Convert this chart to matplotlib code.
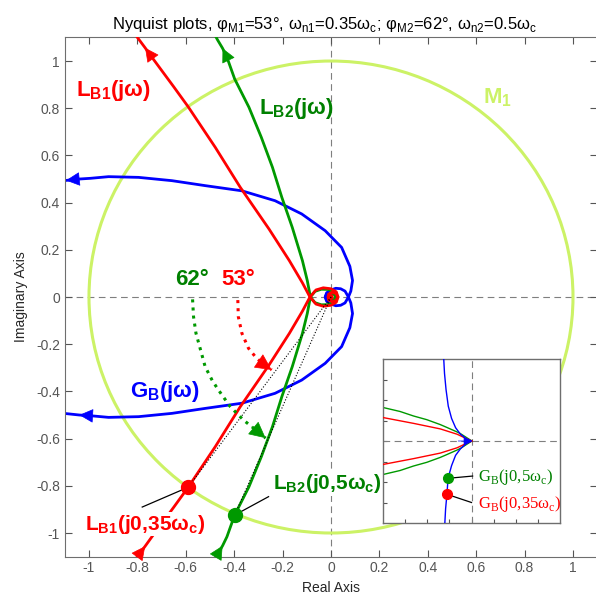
import numpy as np
import matplotlib
matplotlib.use('Agg')
import matplotlib.pyplot as plt
from matplotlib.patches import Circle
from matplotlib.ticker import FuncFormatter

plt.rcParams['font.family'] = ['Liberation Sans', 'DejaVu Sans']
plt.rcParams['axes.unicode_minus'] = False

RED = '#ff0000'
GREEN = '#009900'
GREEN_TXT = '#008000'
BLUE = '#0000ff'
MCOL = '#ccf266'
GRAY = '#7f7f7f'

# positive-frequency branches, low frequency first; the negative-frequency
# halves are their complex conjugates
lb1_re = [-0.83, -0.80, -0.768, -0.74, -0.65, -0.59, -0.478, -0.375, -0.256, -0.172,
          -0.118, -0.087, -0.062, -0.032, 0.0, 0.022, 0.029, 0.02, 0.004, -0.01,
          -0.012, -0.004, 0.005, 0.0]
lb1_im = [-1.145, -1.10, -1.056, -1.016, -0.891, -0.806, -0.634, -0.465, -0.288, -0.154,
          -0.06, 0.0, 0.03, 0.039, 0.035, 0.022, 0.0, -0.015, -0.02, -0.012,
          0.0, 0.01, 0.004, 0.0]

lb2_re = [-0.49, -0.469, -0.448, -0.43, -0.398, -0.339, -0.288, -0.242, -0.203, -0.16,
          -0.118, -0.098, -0.085, -0.066, -0.04, -0.01, 0.012, 0.02, 0.012, 0.0,
          -0.008, 0.0]
lb2_im = [-1.13, -1.09, -1.054, -1.016, -0.924, -0.804, -0.677, -0.55, -0.422, -0.295,
          -0.154, -0.07, 0.0, 0.024, 0.033, 0.032, 0.02, 0.0, -0.012, -0.014,
          -0.006, 0.0]

gb_re = [-1.12, -1.095, -1.04, -0.994, -0.919, -0.795, -0.657, -0.52, -0.368, -0.231,
         -0.121, -0.024, 0.044, 0.078, 0.089, 0.082, 0.072, 0.058, 0.04, 0.02,
         0.0, -0.018, -0.024, -0.018, -0.008, 0.0, 0.0]
gb_im = [-0.492, -0.494, -0.5, -0.503, -0.51, -0.507, -0.493, -0.472, -0.45, -0.408,
         -0.352, -0.281, -0.21, -0.13, -0.07, -0.025, 0.0, 0.025, 0.035, 0.037,
         0.03, 0.018, 0.0, -0.012, -0.012, -0.005, 0.0]

# crossover points on the unit circle
dot1 = (-0.59, -0.806)   # L_B1(j0.35 wc)
dot2 = (-0.398, -0.924)  # L_B2(j0.5 wc)

# phase margin arcs
arc1_re = [-0.385, -0.383, -0.368, -0.341, -0.307, -0.275, -0.245]
arc1_im = [-0.013, -0.083, -0.154, -0.217, -0.26, -0.288, -0.309]
arc2_re = [-0.572, -0.568, -0.558, -0.52, -0.49, -0.465, -0.416, -0.362, -0.327, -0.27]
arc2_im = [-0.01, -0.083, -0.153, -0.295, -0.355, -0.394, -0.465, -0.521, -0.55, -0.598]

m1_center = (0.0, 0.0)
m1_radius = 1.0

# close-up around the origin (inset units)
in_g_re = [-4.1, -3.23, -2.62, -2.02, -1.41, -1.11, -0.65, -0.5, -0.17, 0.02]
in_g_im = [-1.66, -1.44, -1.22, -1.04, -0.80, -0.66, -0.44, -0.36, -0.13, 0.0]
in_r_re = [-4.1, -3.98, -2.62, -1.41, -0.65, -0.2, 0.02]
in_r_im = [-1.16, -1.14, -0.86, -0.59, -0.33, -0.1, 0.0]
in_b_re = [-1.26, -1.22, -1.15, -1.05, -0.9, -0.72, -0.5, -0.25, 0.0, -0.25, -0.5,
           -0.72, -0.9, -1.06, -1.11, -1.17, -1.21]
in_b_im = [4.1, 3.3, 2.5, 1.7, 1.1, 0.65, 0.33, 0.12, 0.0, -0.14, -0.38,
           -0.7, -1.2, -1.82, -2.6, -3.3, -4.1]
in_dot2 = (-1.06, -1.82)   # G_B(j0.5 wc)
in_dot1 = (-1.11, -2.6)    # G_B(j0.35 wc)


def arrow(a, tail, tip, color, size=15):
    a.annotate('', xy=tip, xytext=tail,
               arrowprops=dict(arrowstyle='-|>,head_length=0.6,head_width=0.3',
                               color=color, lw=0.5, shrinkA=0, shrinkB=0,
                               mutation_scale=size), zorder=5)


def branch(a, re, im, color, lw=2.0, z=2):
    re = np.asarray(re)
    im = np.asarray(im)
    a.plot(re, im, color=color, lw=lw, zorder=z, solid_joinstyle='round')
    a.plot(re, -im, color=color, lw=lw, zorder=z, solid_joinstyle='round')
    return re, im


fig = plt.figure(figsize=(5.96, 5.96), dpi=100)
ax = fig.add_axes([0.1087, 0.0661, 0.8933, 0.8711])
ax.set_xlim(-1.1, 1.1)
ax.set_ylim(-1.1, 1.1)

ax.axhline(0, color=GRAY, ls=(0, (6, 4)), lw=0.8, zorder=1)
ax.axvline(0, color=GRAY, ls=(0, (6, 4)), lw=0.8, zorder=1)
ax.add_patch(Circle(m1_center, m1_radius, fill=False, ec=MCOL, lw=2.2, zorder=1.5))

gr, gi = branch(ax, gb_re, gb_im, BLUE, z=2)
l2r, l2i = branch(ax, lb2_re, lb2_im, GREEN, z=3)
l1r, l1i = branch(ax, lb1_re, lb1_im, RED, z=4)

# direction arrows
arrow(ax, (gr[3], gi[3]), (gr[2], gi[2]), BLUE)
arrow(ax, (gr[2], -gi[2]), (gr[1], -gi[1]), BLUE)
arrow(ax, (l1r[1], l1i[1]), (l1r[2], l1i[2]), RED)
arrow(ax, (l1r[3], -l1i[3]), (l1r[2], -l1i[2]), RED)
arrow(ax, (l2r[1], l2i[1]), (l2r[2], l2i[2]), GREEN)
arrow(ax, (l2r[3], -l2i[3]), (l2r[2], -l2i[2]), GREEN)

# phase margin construction
ax.plot([0, dot1[0]], [0, dot1[1]], ls=':', color='k', lw=0.8, zorder=4.5)
ax.plot([0, dot2[0]], [0, dot2[1]], ls=':', color='k', lw=0.8, zorder=4.5)
ax.plot(arc1_re, arc1_im, ls=':', color=RED, lw=2.2, zorder=4.5)
ax.plot(arc2_re, arc2_im, ls=':', color=GREEN, lw=2.2, zorder=4.5)
arrow(ax, (arc1_re[-2], arc1_im[-2]), (arc1_re[-1], arc1_im[-1]), RED, size=18)
arrow(ax, (arc2_re[-2], arc2_im[-2]), (arc2_re[-1], arc2_im[-1]), GREEN, size=18)

ax.plot([dot1[0], -0.78], [dot1[1], -0.89], color='k', lw=0.9, zorder=6)
ax.plot([dot2[0], -0.258], [dot2[1], -0.846], color='k', lw=0.9, zorder=6)
ax.plot(*dot1, 'o', color=RED, ms=10, zorder=7)
ax.plot(*dot2, 'o', color=GREEN, ms=10, zorder=7)

bold = dict(fontsize=16, fontweight='bold', va='center', zorder=8)
ax.text(-1.055, 0.873, 'L$_{\\mathregular{B1}}$(jω)', color=RED, ha='left', **bold)
ax.text(-0.297, 0.799, 'L$_{\\mathregular{B2}}$(jω)', color=GREEN_TXT, ha='left', **bold)
ax.text(0.627, 0.843, 'M$_{\\mathregular{1}}$', color=MCOL, ha='left', **bold)
ax.text(-0.83, -0.40, 'G$_{\\mathregular{B}}$(jω)', color=BLUE, ha='left', **bold)
ax.text(-0.575, 0.076, '62°', color=GREEN_TXT, ha='center', **bold)
ax.text(-0.383, 0.076, '53°', color=RED, ha='center', **bold)
bold['fontsize'] = 15
ax.text(-1.015, -0.962, 'L$_{\\mathregular{B1}}$(j0,35ω$_{\\mathregular{c}}$)', color=RED,
        ha='left', bbox=dict(fc='white', ec='none', pad=0.5), **bold)
ax.text(-0.239, -0.79, 'L$_{\\mathregular{B2}}$(j0,5ω$_{\\mathregular{c}}$)', color=GREEN_TXT,
        ha='left', bbox=dict(fc='white', ec='none', pad=0.5), **bold)

ticks = np.round(np.arange(-1, 1.01, 0.2), 1)
fmt = FuncFormatter(lambda v, p: f'{round(v, 1) + 0.0:g}')
ax.set_xticks(ticks)
ax.set_yticks(ticks)
ax.xaxis.set_major_formatter(fmt)
ax.yaxis.set_major_formatter(fmt)
ax.tick_params(direction='in', top=True, right=True, length=5, width=0.8,
               colors='#555555', labelsize=10)
for s in ax.spines.values():
    s.set_color('#6e6e6e')
    s.set_linewidth(0.8)
ax.set_xlabel('Real Axis', fontsize=10, color='#262626', labelpad=4)
ax.set_ylabel('Imaginary Axis', fontsize=10, color='#262626', labelpad=6)

fig.text(325 / 596, 1 - 24.5 / 596,
         'Nyquist plots, φ$_{\\mathregular{M1}}$=53°, ω$_{\\mathregular{n1}}$=0.35ω$_{\\mathregular{c}}$; '
         'φ$_{\\mathregular{M2}}$=62°, ω$_{\\mathregular{n2}}$=0.5ω$_{\\mathregular{c}}$',
         ha='center', va='center', fontsize=12)

# inset: close-up of the high frequency end
axin = fig.add_axes([383 / 596, 73 / 596, 177 / 596, 164 / 596])
axin.set_xlim(-4, 4)
axin.set_ylim(-4, 4)
axin.axhline(0, color=GRAY, ls=(0, (6, 4)), lw=0.8)
axin.axvline(0, color=GRAY, ls=(0, (6, 4)), lw=0.8)
branch(axin, in_g_re, in_g_im, GREEN, lw=1.0, z=2)
branch(axin, in_r_re, in_r_im, RED, lw=1.0, z=3)
axin.plot(in_b_re, in_b_im, color=BLUE, lw=1.0, zorder=4)
arrow(axin, (-0.6, 0.0), (0.0, 0.0), BLUE, size=8)
axin.plot([in_dot2[0], 0.05], [in_dot2[1], -1.71], color='k', lw=0.9, zorder=5)
axin.plot([in_dot1[0], 0.0], [in_dot1[1], -3.0], color='k', lw=0.9, zorder=5)
axin.plot(*in_dot2, 'o', color=GREEN, ms=7, zorder=6)
axin.plot(*in_dot1, 'o', color=RED, ms=7, zorder=6)
serif = dict(fontsize=12, family=['Liberation Serif', 'DejaVu Serif'], va='center', ha='left')
axin.text(0.3, -1.74, 'G$_{\\mathregular{B}}$(j0,5ω$_{\\mathregular{c}}$)', color=GREEN_TXT, **serif)
axin.text(0.3, -3.06, 'G$_{\\mathregular{B}}$(j0,35ω$_{\\mathregular{c}}$)', color=RED, **serif)
axin.set_xticks(range(-3, 4))
axin.set_yticks(range(-3, 4))
axin.tick_params(direction='in', length=3, width=0.8, colors='#555555',
                 labelleft=False, labelbottom=False)
for s in axin.spines.values():
    s.set_color('#6e6e6e')
    s.set_linewidth(1.0)

fig.savefig('out.png', dpi=100)
